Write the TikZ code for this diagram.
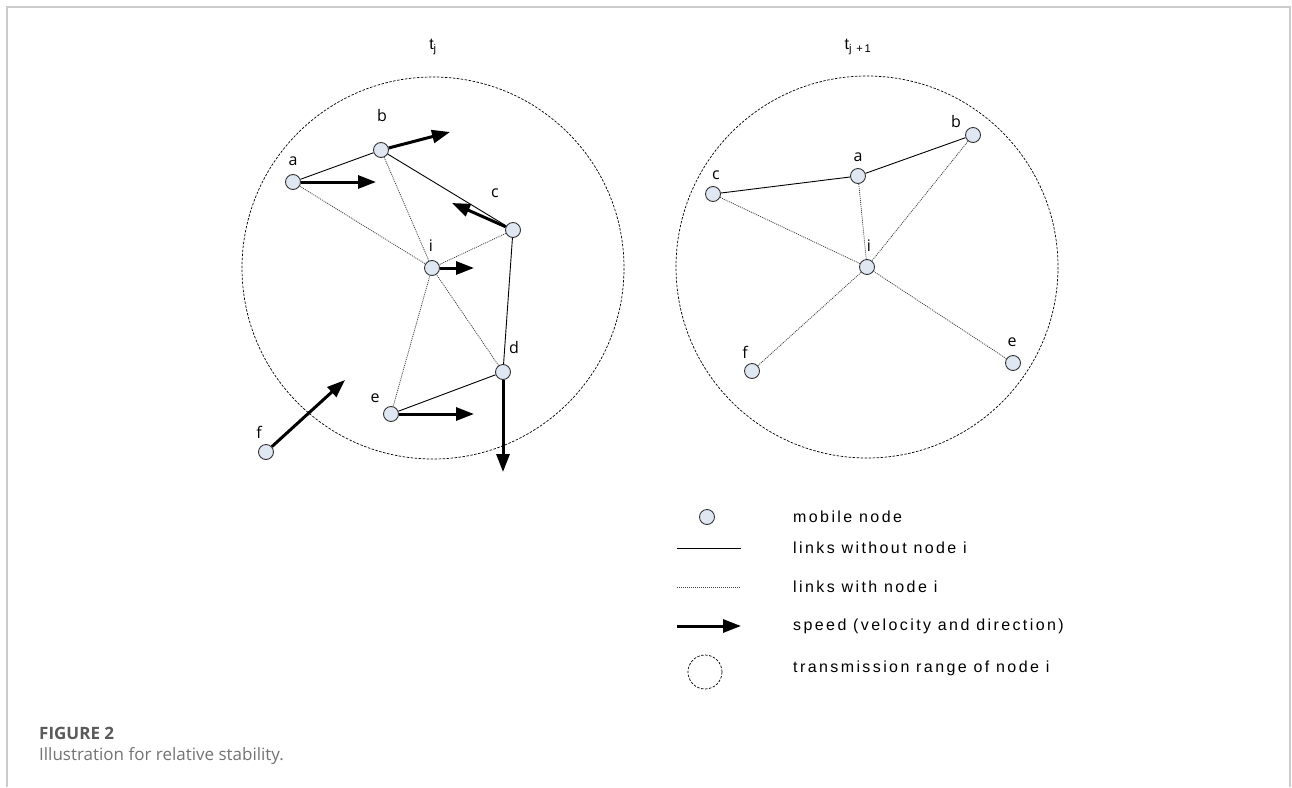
\documentclass[tikz,border=0pt]{standalone}
\usepackage{fontspec}
\setmainfont{Open Sans}
\newfontfamily\legendfont[LetterSpace=15]{Liberation Sans}
\newfontfamily\capfont{Open Sans}
\usetikzlibrary{arrows.meta}

\definecolor{nodefill}{HTML}{DFE7F3}
\definecolor{framegray}{HTML}{CCCCCC}
\definecolor{capgray}{HTML}{5A5A5A}
\definecolor{capgraylight}{HTML}{737373}

\tikzset{
  mnode/.style={circle, draw=black!80, fill=nodefill, line width=0.9, minimum size=15, inner sep=0},
  lbl/.style={font=\fontsize{16}{18}\selectfont, inner sep=0},
  solidlink/.style={line width=0.9},
  ilink/.style={line width=0.8, draw=black!75, dash pattern=on 1 off 1},
  speed/.style={line width=3, -{Triangle[length=18,width=13]}},
  rangecirc/.style={line width=0.7, dash pattern=on 2.5 off 1.5},
  legtext/.style={font=\legendfont\fontsize{16}{18}\selectfont, anchor=west, inner sep=0},
  title/.style={font=\legendfont\fontsize{16}{18}\selectfont, inner sep=0}
}

\begin{document}
\begin{tikzpicture}[x=1pt,y=-1pt]
\useasboundingbox (0,0) rectangle (1292,787);
\fill[white] (0,0) rectangle (1292,787);

% page frame
\draw[framegray, line width=2] (7,787) -- (7,7) -- (1290,7) -- (1290,787);

% ---------- time t_j ----------
\node[title] (tj) at (433,47) {t\textsubscript{j}};
\draw[rangecirc] (433,268) circle[radius=191];

\node[mnode] (a1) at (293,182) {};
\node[mnode] (b1) at (381,150) {};
\node[mnode] (c1) at (513,230) {};
\node[mnode] (i1) at (432,268) {};
\node[mnode] (d1) at (503,372) {};
\node[mnode] (e1) at (391,414) {};
\node[mnode] (f1) at (266,452) {};

\node[lbl] (la1) at (293,161) {a};
\node[lbl] (lb1) at (382,115) {b};
\node[lbl] (lc1) at (495,193) {c};
\node[lbl] (li1) at (431,246) {i};
\node[lbl] (ld1) at (514,347) {d};
\node[lbl] (le1) at (375,398) {e};
\node[lbl] (lf1) at (259,432) {f};

% links without node i
\draw[solidlink] (a1) -- (b1);
\draw[solidlink] (b1) -- (c1);
\draw[solidlink] (c1) -- (d1);
\draw[solidlink] (d1) -- (e1);
% links with node i
\draw[ilink] (a1) -- (i1);
\draw[ilink] (b1) -- (i1);
\draw[ilink] (c1) -- (i1);
\draw[ilink] (d1) -- (i1);
\draw[ilink] (e1) -- (i1);

% speeds
\coordinate (va) at (376,182);
\coordinate (vb) at (450,132);
\coordinate (vc) at (452,203);
\coordinate (vi) at (474,268);
\coordinate (vd) at (503,472);
\coordinate (ve) at (474,414);
\coordinate (vf) at (345,380);
\draw[speed] (a1) -- (va);
\draw[speed] (b1) -- (vb);
\draw[speed] (c1) -- (vc);
\draw[speed] (i1) -- (vi);
\draw[speed] (d1) -- (vd);
\draw[speed] (e1) -- (ve);
\draw[speed] (f1) -- (vf);

% ---------- time t_{j+1} ----------
\node[title] (tj1) at (858,47) {t\textsubscript{j +1}};
\draw[rangecirc] (867,267) circle[radius=191];

\node[mnode] (a2) at (858,176) {};
\node[mnode] (b2) at (973,135) {};
\node[mnode] (c2) at (713,194) {};
\node[mnode] (i2) at (867,267) {};
\node[mnode] (f2) at (752,371) {};
\node[mnode] (e2) at (1013,363) {};

\node[lbl] (la2) at (858,157) {a};
\node[lbl] (lb2) at (956,121) {b};
\node[lbl] (lc2) at (716,175) {c};
\node[lbl] (li2) at (869,246) {i};
\node[lbl] (lf2) at (745,352) {f};
\node[lbl] (le2) at (1012,342) {e};

\draw[solidlink] (c2) -- (a2);
\draw[solidlink] (a2) -- (b2);
\draw[ilink] (a2) -- (i2);
\draw[ilink] (b2) -- (i2);
\draw[ilink] (c2) -- (i2);
\draw[ilink] (f2) -- (i2);
\draw[ilink] (e2) -- (i2);

% ---------- legend ----------
\node[mnode] (k1) at (707,517) {};
\coordinate (k2a) at (677,548);  \coordinate (k2b) at (741,548);
\coordinate (k3a) at (677,587);  \coordinate (k3b) at (741,587);
\coordinate (k4a) at (677,626);  \coordinate (k4b) at (741,626);
\draw[solidlink] (k2a) -- (k2b);
\draw[ilink] (k3a) -- (k3b);
\draw[speed] (k4a) -- (k4b);
\node[circle, rangecirc, draw, minimum size=34, inner sep=0] (k5) at (705,672) {};

\node[legtext] (t1) at (793,517) {mobile node};
\node[legtext] (t2) at (793,548) {links without node i};
\node[legtext] (t3) at (793,587) {links with node i};
\node[legtext] (t4) at (793,626) {speed (velocity and direction)};
\node[legtext] (t5) at (793,668) {transmission range of node i};

% ---------- caption ----------
\node[font=\capfont\bfseries\fontsize{17}{19}\selectfont, text=capgray, anchor=west, inner sep=0] (cap1) at (39,733) {FIGURE 2};
\node[font=\capfont\fontsize{17}{19}\selectfont, text=capgraylight, anchor=west, inner sep=0] (cap2) at (39,756) {Illustration for relative stability.};
\end{tikzpicture}
\end{document}
